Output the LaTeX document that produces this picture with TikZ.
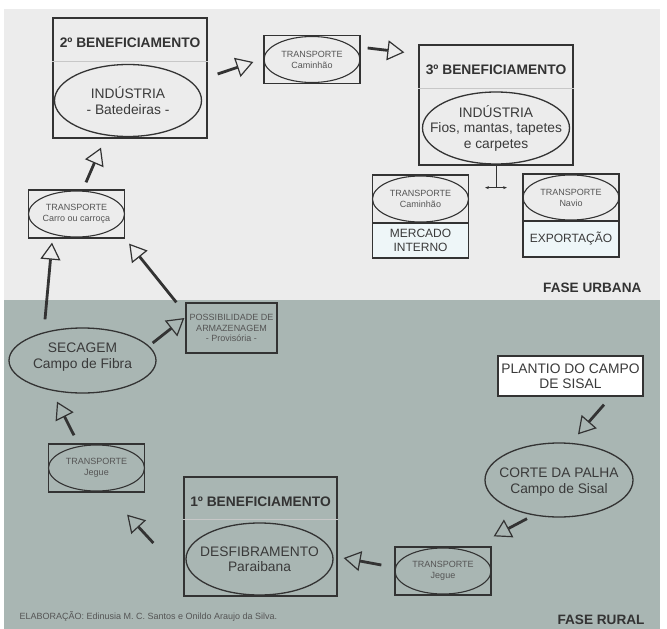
\documentclass[tikz,border=0pt]{standalone}
\usepackage{fontspec}
\setmainfont{Liberation Sans}
\usetikzlibrary{shapes.geometric,arrows.meta}

\definecolor{ink}{HTML}{333333}
\definecolor{txt}{HTML}{3A3A3A}
\definecolor{soft}{HTML}{555555}
\definecolor{urban}{HTML}{ECECEC}
\definecolor{rural}{HTML}{A9B6B3}
\definecolor{pale}{HTML}{EEF6F8}

\begin{document}
\begin{tikzpicture}[
    x=1pt, y=-1pt,
    every node/.style={text=txt},
    stagebox/.style={draw=ink, line width=1.3pt, minimum width=154pt, minimum height=120pt, inner sep=0pt},
    title/.style={font=\bfseries\fontsize{13.8}{15}\selectfont, text=ink},
    bigoval/.style={ellipse, draw=ink, line width=1.3pt, minimum width=147pt, minimum height=72pt, inner sep=0pt},
    bigtext/.style={align=center, font=\fontsize{13.8}{15.5}\selectfont},
    transbox/.style={draw=ink, line width=1.3pt, minimum width=96pt, minimum height=48pt, inner sep=0pt},
    smalloval/.style={ellipse, draw=ink, line width=1.1pt, minimum width=96pt, minimum height=46pt, inner sep=0pt,
        align=center, font=\fontsize{9}{11}\selectfont, text=soft},
    destbox/.style={draw=ink, line width=1.3pt, fill=pale, minimum width=96pt, inner sep=0pt,
        align=center, font=\fontsize{12}{14}\selectfont},
    divider/.style={draw=black!22, line width=0.6pt},
    phase/.style={font=\bfseries\fontsize{13.6}{15}\selectfont, text=ink, anchor=east},
    flow/.style={draw=ink, line width=2.8pt, -{Triangle[open, length=17pt, width=20pt, line width=1.2pt]}}
]
\useasboundingbox (0,0) rectangle (667,629);

    % --- Backgrounds ---
    \fill[urban] (4,9) rectangle (660,300);
    \fill[rural] (4,300) rectangle (660,629);

    % --- 2º beneficiamento ---
    \node[stagebox] (stage2) at (130,78) {};
    \node[title] (title2) at (130,43) {2º BENEFICIAMENTO};
    \draw[divider] ([yshift=-44pt]stage2.north west) -- ([yshift=-44pt]stage2.north east);
    \node[bigoval] (ind2) at (128,100.5) {};
    \node[bigtext] at (ind2) {INDÚSTRIA\\- Batedeiras -};

    % --- Transporte caminhão (top) ---
    \node[transbox] (trCam) at (312,59.5) {};
    \node[smalloval] at (trCam) {TRANSPORTE\\Caminhão};

    % --- 3º beneficiamento ---
    \node[stagebox] (stage3) at (496,105) {};
    \node[title] (title3) at (496,70) {3º BENEFICIAMENTO};
    \draw[divider] ([yshift=-44pt]stage3.north west) -- ([yshift=-44pt]stage3.north east);
    \node[bigoval] (ind3) at (496,128) {};
    \node[bigtext] at (ind3) {INDÚSTRIA\\Fios, mantas, tapetes\\e carpetes};

    % split to the two markets
    \coordinate (split) at ([yshift=-22pt]stage3.south);
    \draw[ink, line width=0.9pt] (stage3.south) -- (split);
    \draw[ink, line width=0.9pt, {Stealth[length=4pt]}-{Stealth[length=4pt]}]
        ([xshift=-11pt]split) -- ([xshift=11pt]split);

    % --- Mercado interno ---
    \node[transbox, fill=urban] (trMerc) at (420.5,199) {};
    \node[smalloval] at (trMerc) {TRANSPORTE\\Caminhão};
    \node[destbox, minimum height=35pt] (mercado) at (420.5,240.5) {MERCADO\\INTERNO};

    % --- Exportação ---
    \node[transbox, fill=urban, minimum height=47pt] (trNavio) at (571,197.5) {};
    \node[smalloval, minimum height=45pt] at (trNavio) {TRANSPORTE\\Navio};
    \node[destbox, minimum height=36pt] (export) at (571,239) {EXPORTAÇÃO};

    \node[phase] (urbana) at (645,288) {FASE URBANA};

    % --- Transporte carro ---
    \node[transbox] (trCarro) at (76.5,214) {};
    \node[smalloval] at (trCarro) {TRANSPORTE\\Carro ou carroça};

    % --- Armazenagem ---
    \node[draw=ink, line width=1.3pt, minimum width=91pt, minimum height=50pt, inner sep=0pt,
        align=center, font=\fontsize{9}{10.5}\selectfont, text=soft] (armaz) at (231.5,328)
        {POSSIBILIDADE DE\\ARMAZENAGEM\\- Provisória -};

    % --- Secagem ---
    \node[bigoval, minimum height=65pt] (secagem) at (82.5,360.5) {};
    \node[bigtext] at (82.5,357) {SECAGEM\\Campo de Fibra};

    % --- Transporte jegue (left) ---
    \node[transbox] (jegueL) at (96.5,468) {};
    \node[smalloval] at (jegueL) {TRANSPORTE\\Jegue};

    % --- 1º beneficiamento ---
    \node[stagebox, minimum width=153pt, minimum height=119pt] (stage1) at (260.5,536.5) {};
    \node[title] (title1) at (260.5,502) {1º BENEFICIAMENTO};
    \draw[divider] ([yshift=-43pt]stage1.north west) -- ([yshift=-43pt]stage1.north east);
    \node[bigoval] (desf) at (259.5,559) {};
    \node[bigtext] at (desf) {DESFIBRAMENTO\\Paraibana};

    % --- Plantio ---
    \node[draw=ink, line width=1.3pt, fill=white, minimum width=145pt, minimum height=40pt, inner sep=0pt,
        align=center, font=\fontsize{13.8}{15}\selectfont] (plantio) at (570.5,376)
        {PLANTIO DO CAMPO\\DE SISAL};

    % --- Corte ---
    \node[bigoval, minimum width=148pt, minimum height=74pt] (corte) at (559,480) {};
    \node[bigtext] at (559,482) {CORTE DA PALHA\\Campo de Sisal};

    % --- Transporte jegue (right) ---
    \node[transbox] (jegueR) at (443,571) {};
    \node[smalloval] at (jegueR) {TRANSPORTE\\Jegue};

    \node[phase] (rural) at (648,620) {FASE RURAL};
    \node[anchor=west, font=\fontsize{9}{10}\selectfont, text=soft] (credit) at (16,616)
        {ELABORAÇÃO: Edinusia M. C. Santos e Onildo Araujo da Silva.};

    % --- Flow arrows ---
    \draw[flow] ([shift={(33.5,8)}]plantio.south) -- ([shift={(19,-8)}]corte.north);
    \draw[flow] ([shift={(-32,1)}]corte.south) -- ([shift={(2,-10)}]jegueR.north east);
    \draw[flow] ([shift={(-13,-6)}]jegueR.west) -- ([shift={(6,21.5)}]stage1.east);
    \draw[flow] ([shift={(-30,6.5)}]stage1.west) -- ([shift={(-18,22)}]jegueL.south east);
    \draw[flow] ([shift={(-22.5,-8)}]jegueL.north) -- ([shift={(-25.5,8)}]secagem.south);
    \draw[flow] ([shift={(-4,-17.5)}]secagem.east) -- ([shift={(-1,-10)}]armaz.west);
    \draw[flow] ([shift={(-37.5,-8)}]secagem.north) -- ([shift={(-24.5,4)}]trCarro.south);
    \draw[flow] ([shift={(-9,0)}]armaz.north west) -- ([shift={(4,5)}]trCarro.south east);
    \draw[flow] ([shift={(9.5,-7)}]trCarro.north) -- ([shift={(-29,9)}]stage2.south);
    \draw[flow] ([shift={(10,-4)}]stage2.east) -- ([shift={(-10,2.5)}]trCam.west);
    \draw[flow] ([shift={(7,-11.5)}]trCam.east) -- ([shift={(-14,8)}]stage3.north west);

\end{tikzpicture}
\end{document}
